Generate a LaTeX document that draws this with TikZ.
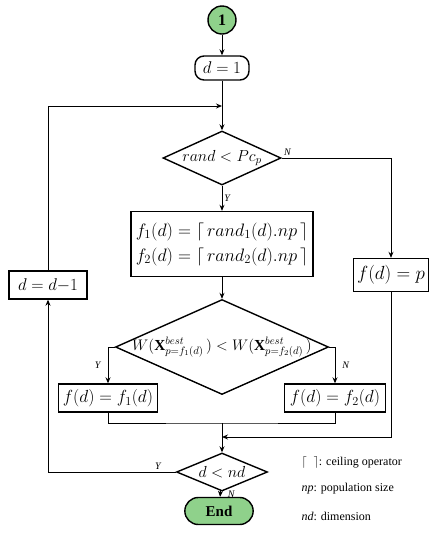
\RequirePackage{fix-cm}
\documentclass[tikz,border=0pt]{standalone}
\usepackage{fontspec}
\setmainfont{Liberation Serif}
\usetikzlibrary{shapes.geometric,shapes.misc,arrows.meta}
\definecolor{leaf}{HTML}{8FD18B}

\tikzset{
  box/.style={draw,line width=1.4pt,inner sep=1pt,minimum height=28pt},
  dia/.style={draw,diamond,line width=1.4pt,inner sep=0pt},
  flow/.style={line width=0.9pt},
  arr/.style={flow,-{Stealth[length=6pt,width=5pt]}},
  yn/.style={font=\fontsize{10}{12}\selectfont\itshape,inner sep=2pt},
  big/.style={font=\fontsize{17.5}{20}\selectfont},
}

\begin{document}
\begin{tikzpicture}[x=1pt,y=-1pt,font=\fontsize{16}{19}\selectfont]
  \useasboundingbox (0,0) rectangle (439,550);
  % start and first dimension
  \node[circle,draw,fill=leaf,line width=1.4pt,minimum size=28pt,inner sep=0pt,font=\bfseries\fontsize{16}{18}\selectfont] (start) at (222,20) {1};
  \node[box,rounded corners=9pt,minimum width=54pt,minimum height=24pt,font=\fontsize{17}{19}\selectfont] (init) at (222,68) {$d=1$};
  % crossover test
  \node[dia,minimum width=118pt,minimum height=54pt,label={[name=c1txt]center:$rand<Pc_p$}] (c1) at (222,158) {};
  \node[box,minimum width=182pt,minimum height=65pt,align=center,font=\fontsize{18}{21}\selectfont] (gen) at (222,244)
    {$f_1\bigl(d\bigr)=\bigl\lceil\, rand_1\bigl(d\bigr).np\,\bigr\rceil$\\[4pt]$f_2\bigl(d\bigr)=\bigl\lceil\, rand_2\bigl(d\bigr).np\,\bigr\rceil$};
  \node[box,minimum width=75pt,minimum height=33pt,font=\fontsize{19}{21}\selectfont] (pbox) at (391,275) {$f\bigl(d\bigr)=p$};
  % choose the better parent
  \node[dia,minimum width=213pt,minimum height=95pt,label={[name=c2txt,font=\fontsize{15.3}{18}\selectfont]center:$W\bigl(\mathbf{X}^{best}_{p=f_1(d)}\,\bigr)<W\bigl(\mathbf{X}^{best}_{p=f_2(d)}\,\bigr)$}] (c2) at (222,347) {};
  \node[box,big,minimum width=99pt] (a1) at (108,398) {$f\bigl(d\bigr)=f_1\bigl(d\bigr)$};
  \node[box,big,minimum width=101pt] (a2) at (335,398) {$f\bigl(d\bigr)=f_2\bigl(d\bigr)$};
  % loop over dimensions
  \node[dia,minimum width=91pt,minimum height=38pt,label={[name=c3txt]center:$d<nd$}] (c3) at (222,472) {};
  \node[box,minimum width=78pt,font=\fontsize{17}{19}\selectfont] (dec) at (48,285) {$d=d{-}1$};
  \node[rounded rectangle,draw,fill=leaf,line width=1.4pt,minimum width=75pt,minimum height=27pt,font=\bfseries\fontsize{15}{17}\selectfont] (endn) at (219,511) {End};
  \coordinate (j1) at (222,106);
  \coordinate (j2) at (222,423);
  \coordinate (j3) at (222,437);

  \draw[arr] (start) -- (init);
  \draw[arr] (init) -- (c1);
  \draw[arr] (dec.north) |- (j1);
  \draw[arr] (c1) -- node[yn,right] (y1) {Y} (gen);
  \draw[arr] (c1.east) node[yn,above right] (n1) {N} -| (pbox);
  \draw[arr] (gen) -- (c2);
  \draw[arr] (c2.west) -| node[yn,pos=0.75,left=5pt] (y2) {Y} (a1);
  \draw[arr] (c2.east) -| node[yn,pos=0.75,right=5pt] (n2) {N} (a2);
  \draw[flow] (a1.south) |- (j2) -| (a2.south);
  \draw[arr] (j2) -- (c3);
  \draw[arr] (pbox.south) |- (j3);
  \draw[arr] (c3) -- node[yn,right=5pt] (n3) {N} (endn);
  \draw[arr] (c3.west) -| node[yn,pos=0.07,above] (y3) {Y} (dec);

  % legend
  \foreach \t [count=\i] in {{$\lceil\;\;\rceil$: ceiling operator},{\textit{np}: population size},{\textit{nd}: dimension}}
    \node[anchor=west,font=\fontsize{12}{14}\selectfont] (lg\i) at (298,435+27*\i) {\t};
\end{tikzpicture}
\end{document}
